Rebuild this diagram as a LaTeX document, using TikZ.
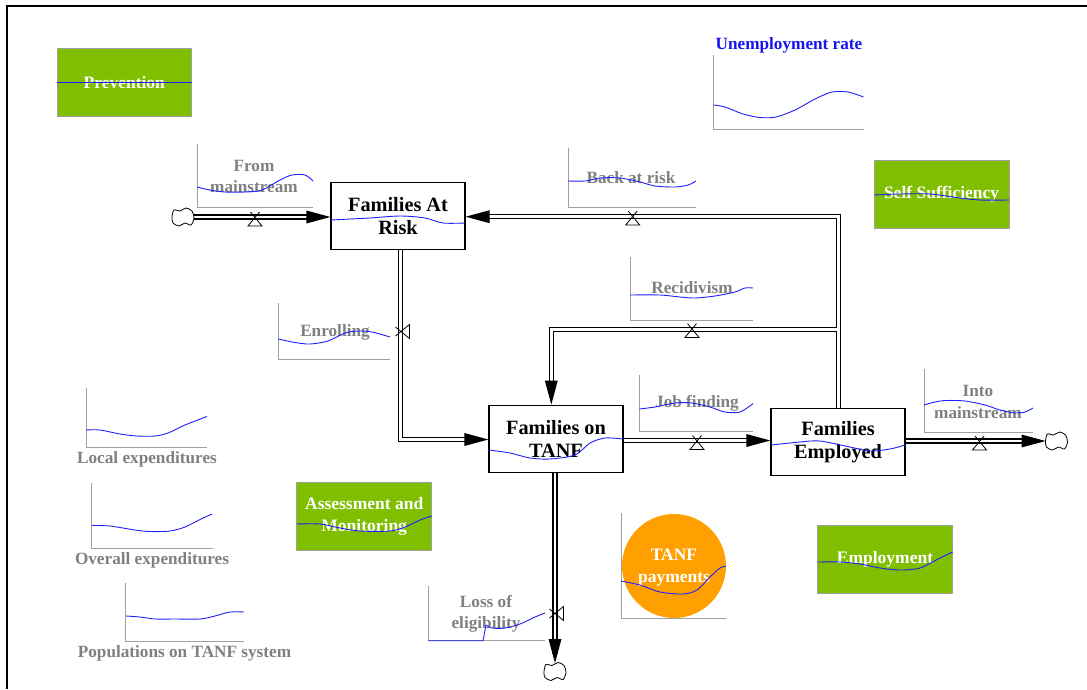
\documentclass[tikz,border=0pt]{standalone}
\usepackage{fontspec}
\setmainfont{Liberation Serif}
\usetikzlibrary{calc}
\definecolor{grn}{RGB}{128,190,0}
\definecolor{org}{RGB}{255,160,0}
\definecolor{lblgray}{RGB}{128,128,128}
\definecolor{axgray}{RGB}{160,160,160}
\definecolor{crv}{RGB}{30,30,255}
\definecolor{ublue}{RGB}{20,20,240}
\begin{document}
\begin{tikzpicture}[x=1pt,y=-1pt,
 stock/.style={draw=black, line width=1.3pt, fill=white, inner sep=0pt, align=center,
   font=\bfseries\fontsize{20.3}{23}\selectfont, minimum width=134pt, minimum height=67pt},
 lbl/.style={text=lblgray, inner sep=0pt, align=center, font=\bfseries\fontsize{17.2}{21.5}\selectfont},
 wlbl/.style={text=white, inner sep=0pt, align=center, font=\bfseries\fontsize{17.5}{22}\selectfont},
 gbox/.style={fill=grn, draw=axgray, line width=0.8pt, inner sep=0pt, minimum width=134.7pt, minimum height=68.3pt},
 axisln/.style={draw=axgray, line width=1pt},
 curve/.style={draw=crv, line width=0.9pt},
 pipe/.style={draw=black, double=white, double distance=2.6pt, line width=1.3pt},
 cloudpic/.pic={\draw[line width=0.8pt, fill=white] plot[smooth cycle] coordinates {(-11,0)(-9,-7)(-3,-6)(3,-9)(9,-6)(11,1)(8,8)(2,6)(-4,9)(-10,6)};},
 valvepic/.pic={\draw[line width=0.8pt] (-4.5,-7) -- (7,7) -- (-7,7) -- (4.5,-7);},
 arrowpic/.pic={\fill[black] (0,0) -- (-24,-6.5) -- (-24,6.5) -- cycle;}
]
\useasboundingbox (0,0) rectangle (1087,689);
% frame
\draw[line width=2.2pt] (7,689) -- (7,6) -- (1087,6);

% ---------- stocks ----------
\node[stock] (risk) at (398,216) {Families At\\Risk};
\node[stock] (tanf) at (556,438.7) {Families on\\TANF};
\node[stock] (emp) at (838,442.3) {Families\\Employed};
\draw[curve] plot[smooth] coordinates {(331,220)(350,219)(370,218)(400,216)(425,218)(443,223)(465,223)};
\draw[curve] plot[smooth] coordinates {(489,450)(510,453)(530,458)(550,459)(575,455)(590,443)(605,438)(623,439)};
\draw[curve] plot[smooth] coordinates {(771,445)(800,442)(820,441)(850,447)(870,451)(890,449)(905,445)};

% ---------- clouds ----------
\coordinate (c1) at (183,217);
\coordinate (c2) at (1056.5,441);
\coordinate (c3) at (555,671.5);

% ---------- pipes ----------
\coordinate (bar) at (838.5,216.7);
\coordinate (rj) at (836.5,329.5);
\coordinate (rx) at (551.3,329.5);
\coordinate (ex) at (400.5,439.5);
\coordinate (jf) at (700,440.5);

\draw[pipe] ([xshift=11pt]c1) -- ($(risk.west |- c1)+(-10,0)$);
\draw[pipe] (emp.north -| bar) -- (bar) -- ($(risk.east |- bar)+(10,0)$);
\draw[pipe] (rj) -- (rx) -- ($(tanf.north -| rx)+(0,-10)$);
\draw[pipe] (risk.south -| ex) -- (ex) -- ($(tanf.west |- ex)+(-10,0)$);
\draw[pipe] (tanf.east |- jf) -- ($(emp.west |- jf)+(-10,0)$);
\draw[pipe] (emp.east |- c2) -- ($(c2)+(-21,0)$);
\draw[pipe] (tanf.south -| c3) -- ($(c3)+(0,-18)$);

\pic at (c1) {cloudpic};
\pic at (c2) {cloudpic};
\pic at (c3) {cloudpic};

\pic at (risk.west |- c1) {arrowpic};
\pic[rotate=180] at (risk.east |- bar) {arrowpic};
\pic[rotate=-90] at (tanf.north -| rx) {arrowpic};
\pic at (tanf.west |- ex) {arrowpic};
\pic at (emp.west |- jf) {arrowpic};
\pic at ($(c2)+(-11,0)$) {arrowpic};
\pic[rotate=-90] at ($(c3)+(0,-8.5)$) {arrowpic};

% valves
\pic at (255,219) {valvepic};
\pic at (632.7,218) {valvepic};
\pic at (692,330.5) {valvepic};
\pic at (697,442.5) {valvepic};
\pic at (979.5,443) {valvepic};
\pic[rotate=90] at (402.5,331.5) {valvepic};
\pic[rotate=90] at (556.5,613.5) {valvepic};

% ---------- graphs ----------
% From mainstream
\draw[axisln] (197,144) -- (197,207) -- (313,207);
\node[lbl] (lfrom) at (254,176.5) {From\\mainstream};
\draw[curve] plot[smooth] coordinates {(197,187)(210,190)(225,192)(245,192)(262,190)(280,180)(292,175)(305,175)(313,181)};
% Back at risk
\draw[axisln] (568,148) -- (568,207.5) -- (696,207.5);
\node[lbl] (lback) at (631,177.7) {Back at risk};
\draw[curve] plot[smooth] coordinates {(568,181)(585,181)(600,178)(620,178)(640,182)(655,186)(675,187)(688,185)(696,181)};
% Unemployment rate
\draw[axisln] (713.5,55) -- (713.5,129.5) -- (863.5,129.5);
\node[inner sep=0pt, text=ublue, font=\bfseries\fontsize{17.2}{20}\selectfont] (lunemp) at (789,45) {Unemployment rate};
\draw[curve] plot[smooth] coordinates {(713.5,105)(725,107)(743,114)(760,117.5)(776,117)(795,110)(815,99)(832,92)(848,92)(863.5,97)};
% Enrolling
\draw[axisln] (278.3,303) -- (278.3,359) -- (390,359);
\node[lbl] (lenrol) at (335,332) {Enrolling};
\draw[curve] plot[smooth] coordinates {(278.3,339)(295,342.5)(310,344)(328,341)(345,333)(358,331)(372,332)(390,337)};
% Recidivism
\draw[axisln] (630,257) -- (630,320) -- (753,320);
\node[lbl] (lrecid) at (692,288) {Recidivism};
\draw[curve] plot[smooth] coordinates {(630,295)(660,295)(680,297)(695,298)(715,296)(735,292)(745,288)(753,288)};
% Job finding
\draw[axisln] (639.3,375) -- (639.3,431) -- (753.3,431);
\node[lbl] (ljob) at (697,403.5) {Job finding};
\draw[curve] plot[smooth] coordinates {(639.3,409)(655,407)(675,403)(692,403)(710,407)(725,412)(740,412)(753,403.5)};
% Into mainstream
\draw[axisln] (924,369) -- (924,432) -- (1033,432);
\node[lbl] (linto) at (978,402) {Into\\mainstream};
\draw[curve] plot[smooth] coordinates {(924,405)(935,402)(946,400.5)(965,401)(985,405)(1000,410)(1015,413)(1025,412)(1033,408)};
% Local expenditures
\draw[axisln] (86,388) -- (86,447) -- (207,447);
\node[lbl] (llocal) at (147,459) {Local expenditures};
\draw[curve] plot[smooth] coordinates {(86,430)(100,430)(120,434)(137,436)(155,436)(168,433)(185,425)(207,416.5)};
% Overall expenditures
\draw[axisln] (91.7,483) -- (91.7,548) -- (212.7,548);
\node[lbl] (lover) at (152,560) {Overall expenditures};
\draw[curve] plot[smooth] coordinates {(92,525.5)(110,526)(135,530)(150,531.5)(170,531)(185,527)(200,519.5)(212,514)};
% Populations on TANF system
\draw[axisln] (125.7,583) -- (125.7,641) -- (244.3,641);
\node[lbl] (lpop) at (184.5,653) {Populations on TANF system};
\draw[curve] plot[smooth] coordinates {(126,616)(140,617)(155,619)(175,619)(200,619)(215,616)(230,612)(244,612)};
% Loss of eligibility
\draw[axisln] (428.3,586) -- (428.3,640.7) -- (545,640.7);
\node[lbl] (lloss) at (486,614) {Loss of\\eligibility};
\draw[curve] (428.3,640.7) -- (483,640.7) -- (486,625);
\draw[curve] plot[smooth] coordinates {(486,625)(492,628)(505,628)(520,624)(535,617)(545,613)};
% TANF payments
\draw[axisln] (621,513) -- (621,618.3) -- (726,618.3);
\fill[org] (674,566) circle (52);
\node[wlbl] (lpay) at (674,568) {TANF\\payments};
\draw[curve] plot[smooth] coordinates {(621,581)(640,585)(660,592)(683,594)(697,590)(710,577)(720,568)(726,566)};

% ---------- green sectors ----------
\node[gbox] (prev) at (124.3,82.5) {};
\node[wlbl] at (prev.center) {Prevention};
\draw[curve] (prev.west) -- (prev.east);

\node[gbox] (self) at (941.6,194.2) {};
\node[wlbl] at (self.center) {Self Sufficiency};
\draw[curve] plot[smooth] coordinates {(874,195)(900,194)(930,194)(960,198)(980,200)(1009.3,200)};

\node[gbox] (assess) at (364.2,516.7) {};
\node[wlbl] at (assess.center) {Assessment and\\Monitoring};
\draw[curve] plot[smooth] coordinates {(296.7,524)(320,524)(340,528)(360,531)(390,531)(405,527)(420,520)(431.7,516)};

\node[gbox] (employ) at (885,559.2) {};
\node[wlbl] at (employ.center) {Employment};
\draw[curve] plot[smooth] coordinates {(817.3,562)(840,562)(860,564)(880,568)(900,570)(920,568)(940,558)(952.7,552)};
\end{tikzpicture}
\end{document}
